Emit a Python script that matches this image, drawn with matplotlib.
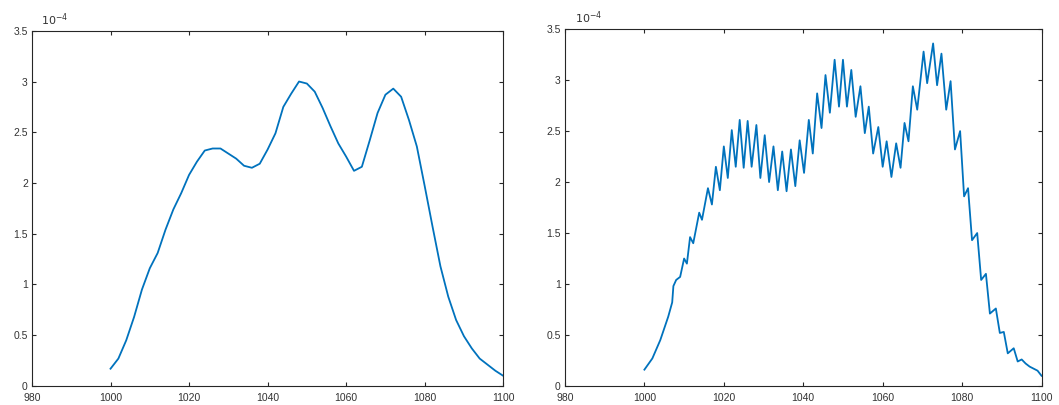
import matplotlib
matplotlib.use("Agg")
import matplotlib.pyplot as plt

plt.rcParams['font.family'] = ['Liberation Sans', 'DejaVu Sans']

# left panel: smooth spectrum (units of 1e-4)
wl_smooth = [1000, 1002, 1004, 1006, 1008, 1010, 1012, 1014, 1016, 1018,
             1020, 1022, 1024, 1026, 1028, 1030, 1032, 1034, 1036, 1038,
             1040, 1042, 1044, 1046, 1048, 1050, 1052, 1054, 1056, 1058,
             1060, 1062, 1064, 1066, 1068, 1070, 1072, 1074, 1076, 1078,
             1080, 1082, 1084, 1086, 1088, 1090, 1092, 1094, 1096, 1098, 1100]
val_smooth = [0.17, 0.27, 0.45, 0.68, 0.95, 1.16, 1.31, 1.54, 1.74, 1.90,
              2.08, 2.21, 2.32, 2.34, 2.34, 2.29, 2.24, 2.17, 2.15, 2.19,
              2.33, 2.49, 2.75, 2.88, 3.00, 2.98, 2.90, 2.74, 2.56, 2.39,
              2.26, 2.12, 2.16, 2.42, 2.69, 2.87, 2.93, 2.85, 2.62, 2.36,
              1.97, 1.57, 1.18, 0.88, 0.65, 0.49, 0.37, 0.27, 0.21, 0.15, 0.10]

# right panel: spectrum with fringes (peaks and troughs, units of 1e-4)
wl_fringe = [1000, 1002, 1004, 1006, 1007, 1007.3, 1008, 1009,
             1010, 1010.7, 1011.5, 1012.3, 1013.8, 1014.5, 1016, 1017,
             1018, 1019, 1020, 1021, 1022, 1023, 1024, 1025,
             1026, 1027, 1028.2, 1029.2, 1030.3, 1031.4, 1032.5, 1033.6,
             1034.7, 1035.8, 1036.9, 1038, 1039.1, 1040.2, 1041.4, 1042.4,
             1043.5, 1044.6, 1045.6, 1046.7, 1047.9, 1049, 1050, 1051,
             1052.1, 1053.2, 1054.4, 1055.5, 1056.5, 1057.6, 1058.9, 1060,
             1061, 1062.2, 1063.4, 1064.5, 1065.5, 1066.5, 1067.6, 1068.7,
             1070.3, 1071.2, 1072.7, 1073.7, 1074.8, 1076, 1077.1, 1078.2,
             1079.5, 1080.5, 1081.5, 1082.5, 1083.8, 1084.8, 1086, 1087,
             1088.5, 1089.5, 1090.5, 1091.5, 1093, 1094, 1095, 1096,
             1097, 1098, 1099, 1100]
val_fringe = [0.16, 0.27, 0.45, 0.68, 0.82, 0.98, 1.04, 1.07,
              1.25, 1.20, 1.46, 1.40, 1.70, 1.63, 1.94, 1.78,
              2.15, 1.92, 2.35, 2.04, 2.51, 2.15, 2.61, 2.14,
              2.60, 2.15, 2.56, 2.04, 2.46, 2.00, 2.35, 1.92,
              2.30, 1.91, 2.32, 1.96, 2.41, 2.09, 2.61, 2.28,
              2.87, 2.53, 3.05, 2.68, 3.20, 2.74, 3.20, 2.74,
              3.10, 2.64, 2.94, 2.48, 2.74, 2.28, 2.54, 2.15,
              2.40, 2.05, 2.38, 2.14, 2.58, 2.40, 2.94, 2.71,
              3.28, 2.97, 3.36, 2.95, 3.26, 2.71, 2.99, 2.32,
              2.50, 1.86, 1.94, 1.43, 1.50, 1.04, 1.10, 0.71,
              0.76, 0.52, 0.53, 0.32, 0.37, 0.24, 0.26, 0.22,
              0.19, 0.17, 0.15, 0.10]

xticks = [980, 1000, 1020, 1040, 1060, 1080, 1100]
yticks = [0, 0.5, 1, 1.5, 2, 2.5, 3, 3.5]
ytick_labels = ['0', '0.5', '1', '1.5', '2', '2.5', '3', '3.5']

line_color = '#0072BD'
text_color = '#333333'


def style_axes(ax):
    ax.set_xlim(980, 1100)
    ax.set_ylim(0, 3.5)
    ax.set_xticks(xticks)
    ax.set_yticks(yticks)
    ax.set_yticklabels(ytick_labels)
    ax.tick_params(direction='in', top=True, right=True, length=3,
                   width=0.8, labelsize=7.5, colors='#262626',
                   labelcolor=text_color)
    ax.tick_params(axis='x', pad=5)
    ax.tick_params(axis='y', pad=3)
    for s in ax.spines.values():
        s.set_color('#262626')
        s.set_linewidth(0.8)
    ax.text(0.02, 1.008, r'$10^{-4}$', transform=ax.transAxes,
            fontsize=8, color=text_color, ha='left', va='bottom')


fig = plt.figure(figsize=(10.59, 4.05), dpi=100)
ax1 = fig.add_axes([0.0302, 0.047, 0.445, 0.877])
ax2 = fig.add_axes([0.5335, 0.047, 0.450, 0.881])

ax1.plot(wl_smooth, val_smooth, color=line_color, lw=1.3)
ax2.plot(wl_fringe, val_fringe, color=line_color, lw=1.3)

style_axes(ax1)
style_axes(ax2)

fig.savefig('out.png', dpi=100)
